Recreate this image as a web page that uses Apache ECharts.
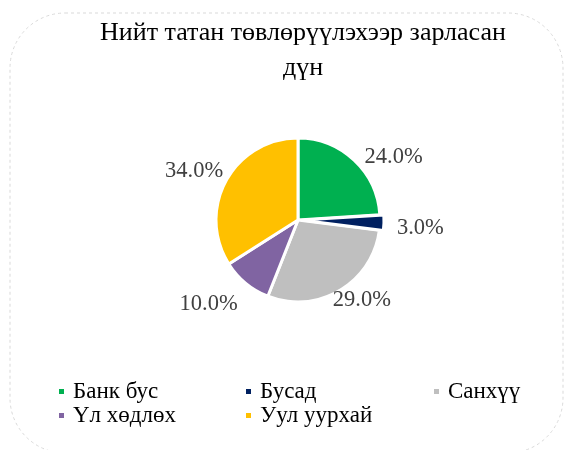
<!DOCTYPE html>
<html>
<head>
<meta charset="utf-8">
<script src="https://cdn.jsdelivr.net/npm/echarts@6/dist/echarts.min.js"></script>
<style>
    html, body { margin: 0; padding: 0; background: #fff; }
    #chart { width: 573px; height: 450px; }
</style>
</head>
<body>
<div id="chart"></div>
<script>
const categories = ['Банк бус', 'Бусад', 'Санхүү', 'Үл хөдлөх', 'Уул уурхай'];
const values = [24.0, 3.0, 29.0, 10.0, 34.0];
const colors = ['#00b050', '#002060', '#bfbfbf', '#8064a2', '#ffc000'];

// legend slots [left, top] and label nudges [dx, dy]
const legendPos = [[57, 380], [244, 380], [432, 380], [57, 404], [244, 404]];
const labelNudge = [[0, 3], [0, 5], [-16, 3], [2, 15], [9, -6]];

const serif = '"Liberation Serif", "DejaVu Serif", serif';
const chart = echarts.init(document.getElementById('chart'));

const option = {
    animation: false,
    title: {
        text: 'Нийт татан төвлөрүүлэхээр зарласан\nдүн',
        left: 298,
        top: 11,
        textAlign: 'center',
        textStyle: {
            fontFamily: serif,
            fontSize: 26,
            fontWeight: 'normal',
            color: '#000',
            lineHeight: 35
        }
    },
    graphic: [{
        type: 'rect',
        shape: { x: 10, y: 13, width: 553, height: 440, r: 55 },
        style: { fill: 'none', stroke: '#d9d9d9', lineWidth: 1, lineDash: [3, 3] },
        silent: true
    }],
    legend: categories.map((name, i) => ({
        data: [name],
        left: legendPos[i][0],
        top: legendPos[i][1],
        padding: 0,
        icon: 'rect',
        itemWidth: 7,
        itemHeight: 7,
        itemGap: 0,
        textStyle: { fontFamily: serif, fontSize: 23, color: '#000', padding: [0, 0, 0, 3] },
        selectedMode: false
    })),
    series: [{
        type: 'pie',
        center: [298, 220],
        radius: [0, 82],
        startAngle: 90,
        clockwise: true,
        color: colors,
        itemStyle: { borderColor: '#fff', borderWidth: 3 },
        label: {
            show: true,
            position: 'outside',
            formatter: p => p.value.toFixed(1) + '%',
            fontFamily: serif,
            fontSize: 22.5,
            color: '#404040'
        },
        labelLine: { show: false, length: 8, length2: 0 },
        labelLayout: p => ({ dx: labelNudge[p.dataIndex][0], dy: labelNudge[p.dataIndex][1] }),
        data: categories.map((name, i) => ({
            name: name,
            value: values[i],
            selected: name === 'Бусад'
        })),
        selectedMode: 'single',
        selectedOffset: 4
    }]
};
chart.setOption(option);
</script>
</body>
</html>
